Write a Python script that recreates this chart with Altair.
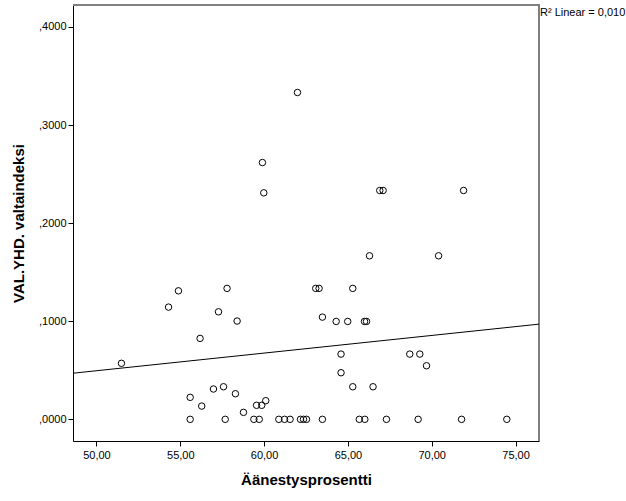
import altair as alt
import pandas as pd

# Data
turnout = [51.49, 54.89, 54.30, 57.79, 57.28, 58.39, 56.18, 55.59, 55.59, 56.28,
           56.98, 57.58, 58.29, 57.68, 58.77, 59.55, 59.86, 60.10, 59.39, 59.71,
           60.88, 61.22, 61.55, 62.17, 62.35, 62.53, 63.48, 65.68, 66.01, 67.30,
           69.19, 71.78, 74.48, 64.59, 64.59, 65.29, 66.50, 68.69, 69.29, 69.69,
           63.48, 64.30, 64.99, 65.99, 66.11, 63.08, 63.28, 65.29, 61.99, 59.90,
           59.98, 66.90, 67.10, 71.90, 66.29, 70.41]
power_index = [0.0571, 0.1310, 0.1144, 0.1335, 0.1096, 0.1002, 0.0825, 0.0224, 0.0, 0.0135,
               0.0309, 0.0332, 0.0261, 0.0, 0.0071, 0.0143, 0.0143, 0.0190, 0.0, 0.0,
               0.0, 0.0, 0.0, 0.0, 0.0, 0.0, 0.0, 0.0, 0.0, 0.0,
               0.0, 0.0, 0.0, 0.0665, 0.0475, 0.0332, 0.0332, 0.0665, 0.0665, 0.0546,
               0.1042, 0.0998, 0.0998, 0.0998, 0.0998, 0.1335, 0.1335, 0.1335, 0.3332, 0.2618,
               0.2309, 0.2333, 0.2333, 0.2333, 0.1667, 0.1667]
x_ticks = [50, 55, 60, 65, 70, 75]
y_ticks = [0.0, 0.1, 0.2, 0.3, 0.4]
r2_label = ["R² Linear = 0,010"]

df = pd.DataFrame({"x": turnout, "y": power_index})

W, H = 466, 436
FONT = "Liberation Sans"

xscale = alt.Scale(domain=[48.6, 76.4], nice=False, zero=False)
yscale = alt.Scale(domain=[-0.0221, 0.4224], nice=False, zero=False)

xaxis = alt.Axis(values=x_ticks, title="Äänestysprosentti",
                 labelExpr="replace(format(datum.value, '.2f'), '.', ',')",
                 grid=False, domainColor="black", tickColor="black", tickSize=5,
                 labelFont=FONT, labelFontSize=11, labelColor="black", labelPadding=3,
                 titleFont=FONT, titleFontSize=15, titleFontWeight="bold",
                 titleColor="black", titlePadding=12)
yaxis = alt.Axis(values=y_ticks, title="VAL.YHD. valtaindeksi",
                 labelExpr="replace(format(datum.value, '.4f'), '0.', ',')",
                 grid=False, domainColor="black", tickColor="black", tickSize=5,
                 labelFont=FONT, labelFontSize=11, labelColor="black", labelPadding=2,
                 titleFont=FONT, titleFontSize=15, titleFontWeight="bold",
                 titleColor="black", titlePadding=12)

points = alt.Chart(df).mark_point(shape="circle", filled=False, size=42,
                                  color="black", strokeWidth=1, opacity=1).encode(
    x=alt.X("x:Q", scale=xscale, axis=xaxis),
    y=alt.Y("y:Q", scale=yscale, axis=yaxis),
)

fit = alt.Chart(df).transform_regression(
    "x", "y", extent=[48.6, 76.4]
).mark_line(color="black", strokeWidth=1, clip=True).encode(
    x=alt.X("x:Q", scale=xscale),
    y=alt.Y("y:Q", scale=yscale),
)

frame_top = alt.Chart(df).mark_rule(color="#808080", strokeWidth=2).encode(
    x=alt.value(0), x2=alt.value(W + 1), y=alt.value(0))
frame_right = alt.Chart(df).mark_rule(color="#808080", strokeWidth=2).encode(
    x=alt.value(W), y=alt.value(0), y2=alt.value(H))

r2 = alt.Chart(pd.DataFrame({"t": r2_label})).mark_text(
    align="left", baseline="middle", font=FONT, fontSize=11, color="black"
).encode(text="t:N", x=alt.value(W + 1), y=alt.value(8))

chart = alt.layer(frame_top, frame_right, fit, points, r2).properties(
    width=W, height=H,
    autosize=alt.AutoSizeParams(type="none"),
    padding={"left": 73, "top": 5, "right": 87, "bottom": 60},
).configure_view(stroke=None).configure(background="white")

chart.save("out.html", embed_options={"renderer": "svg", "actions": False})
